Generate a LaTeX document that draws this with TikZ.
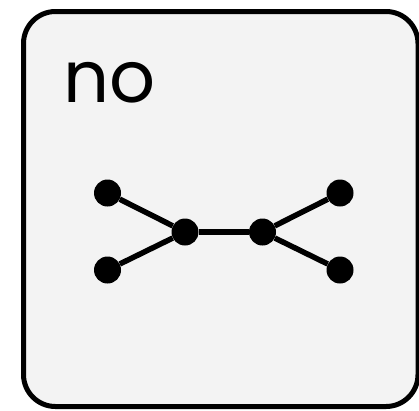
\documentclass[tikz,border=0pt]{standalone}
\usepackage{fontspec}
\setmainfont{Poppins}
\definecolor{boxfill}{HTML}{F3F3F3}
\begin{document}
\begin{tikzpicture}[x=1pt,y=-1pt,
  dot/.style={circle,fill=black,inner sep=0pt,minimum size=27pt},
  edge/.style={line width=5.5pt}]
\useasboundingbox (0,0) rectangle (419,410);
\draw[line width=5pt,fill=boxfill,rounded corners=32pt] (23.5,11.5) rectangle (418,406.5);
\node[anchor=base west,inner sep=0pt,font=\fontsize{72}{72}\selectfont] (lbl) at (63,102) {no};
\node[dot] (a) at (107.5,193) {};
\node[dot] (b) at (107.5,270) {};
\node[dot] (c) at (185,232) {};
\node[dot] (d) at (262.5,232) {};
\node[dot] (e) at (340,193) {};
\node[dot] (f) at (340,270) {};
\draw[edge] (a) -- (c);
\draw[edge] (b) -- (c);
\draw[edge] (c) -- (d);
\draw[edge] (d) -- (e);
\draw[edge] (d) -- (f);
\end{tikzpicture}
\end{document}
